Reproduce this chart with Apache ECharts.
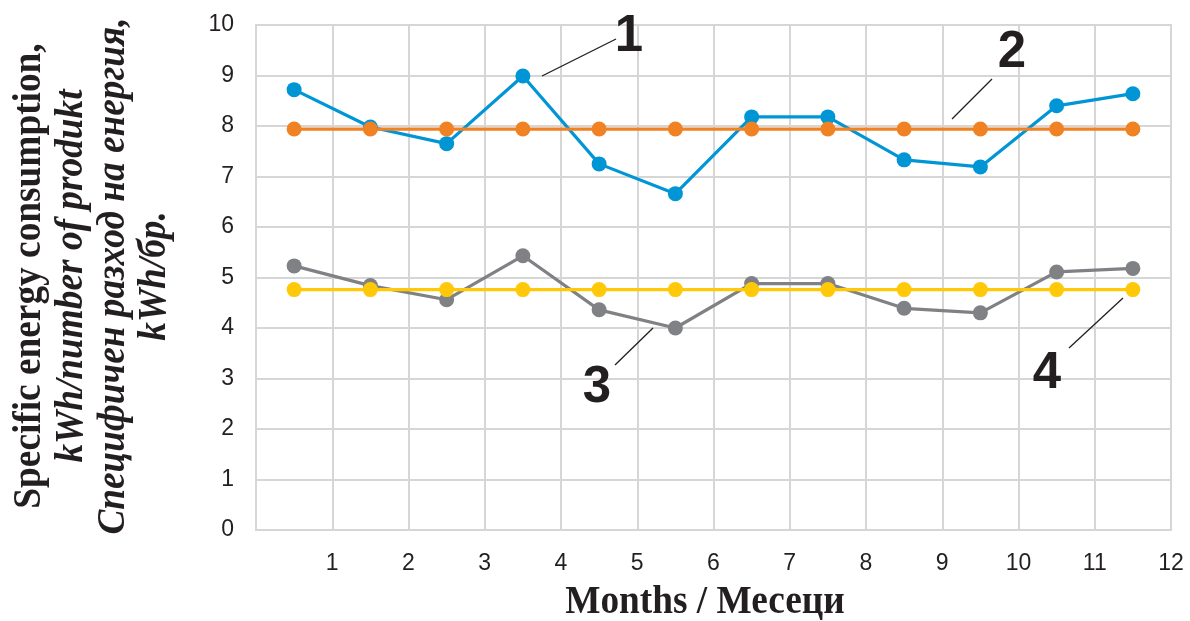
<!DOCTYPE html>
<html>
<head>
<meta charset="utf-8">
<script src="https://cdn.jsdelivr.net/npm/echarts@6/dist/echarts.min.js"></script>
<style>
html,body{margin:0;padding:0;background:#fff;}
#chart{width:1190px;height:621px;}
</style>
</head>
<body>
<div id="chart"></div>
<script>
// ---- data ----
var monthPositions = [0.5, 1.5, 2.5, 3.5, 4.5, 5.5, 6.5, 7.5, 8.5, 9.5, 10.5, 11.5];
var series1 = [8.72, 7.98, 7.65, 8.99, 7.25, 6.66, 8.18, 8.18, 7.33, 7.19, 8.40, 8.64];
var series2 = [7.94, 7.94, 7.94, 7.94, 7.94, 7.94, 7.94, 7.94, 7.94, 7.94, 7.94, 7.94];
var series3 = [5.23, 4.84, 4.56, 5.43, 4.36, 4.00, 4.88, 4.88, 4.39, 4.30, 5.11, 5.18];
var series4 = [4.76, 4.76, 4.76, 4.76, 4.76, 4.76, 4.76, 4.76, 4.76, 4.76, 4.76, 4.76];
var seriesLabels = ['1', '2', '3', '4'];
var yTitleLines = [
  {text: 'Specific energy consumption,', italic: false},
  {text: 'kWh/number of produkt', italic: true},
  {text: 'Специфичен разход на енергия,', italic: true},
  {text: 'kWh/бр.', italic: true}
];
var xTitle = 'Months / Месеци';

function pairs(vals) {
  return vals.map(function (v, i) { return [monthPositions[i], v]; });
}

var colors = ['#0096d6', '#f08224', '#808184', '#ffc90a'];
var gridColor = '#d6d6d6';
var textColor = '#231f20';

var chart = echarts.init(document.getElementById('chart'), null, {renderer: 'canvas'});

function lineSeries(name, vals, color) {
  return {
    name: name, type: 'line', data: pairs(vals),
    symbol: 'circle', symbolSize: 15,
    lineStyle: {color: color, width: 3.2},
    itemStyle: {color: color},
    animation: false
  };
}

var graphics = [];
var yLineX = [29, 71, 113, 154];
yTitleLines.forEach(function (ln, i) {
  graphics.push({
    type: 'text', x: yLineX[i], y: 276, rotation: Math.PI / 2, scaleX: 0.91,
    style: {
      text: ln.text, fill: textColor,
      fontFamily: '"Liberation Serif", "Times New Roman", serif',
      fontWeight: 'bold', fontStyle: ln.italic ? 'italic' : 'normal',
      fontSize: 41, align: 'center', verticalAlign: 'middle'
    }
  });
});
graphics.push({
  type: 'text', x: 705, y: 602, scaleX: 0.91,
  style: {
    text: xTitle, fill: textColor,
    fontFamily: '"Liberation Serif", "Times New Roman", serif',
    fontWeight: 'bold', fontSize: 41, align: 'center', verticalAlign: 'middle'
  }
});
// annotation labels and leader lines
var annot = [
  {label: seriesLabels[0], tx: 629, ty: 37, x1: 542, y1: 76, x2: 616, y2: 39},
  {label: seriesLabels[1], tx: 1012, ty: 53, x1: 952, y1: 119, x2: 992, y2: 79},
  {label: seriesLabels[2], tx: 597, ty: 388, x1: 615, y1: 365, x2: 653, y2: 328},
  {label: seriesLabels[3], tx: 1047, ty: 374, x1: 1069, y1: 348, x2: 1123, y2: 298}
];
annot.forEach(function (a) {
  graphics.push({
    type: 'line', shape: {x1: a.x1, y1: a.y1, x2: a.x2, y2: a.y2},
    style: {stroke: textColor, lineWidth: 1.3}, z: 10
  });
  graphics.push({
    type: 'text', x: a.tx, y: a.ty, z: 10,
    style: {
      text: a.label, fill: textColor,
      fontFamily: '"Liberation Sans", Arial, sans-serif', fontWeight: 'bold',
      fontSize: 51, align: 'center', verticalAlign: 'middle'
    }
  });
});

var option = {
  backgroundColor: '#ffffff',
  animation: false,
  grid: {left: 256, top: 25, right: 19, bottom: 91, show: true, borderColor: gridColor, borderWidth: 2},
  xAxis: {
    type: 'value', min: 0, max: 12, interval: 1,
    axisLine: {show: true, lineStyle: {color: gridColor, width: 2}},
    axisTick: {show: false},
    splitLine: {show: true, lineStyle: {color: gridColor, width: 2}},
    axisLabel: {
      show: true, margin: 22, color: textColor, fontSize: 23,
      fontFamily: '"Liberation Sans", Arial, sans-serif',
      showMinLabel: false,
      formatter: function (v) { return v === 0 ? '' : String(v); }
    }
  },
  yAxis: {
    type: 'value', min: 0, max: 10, interval: 1,
    axisLine: {show: true, lineStyle: {color: gridColor, width: 2}},
    axisTick: {show: false},
    splitLine: {show: true, lineStyle: {color: gridColor, width: 2}},
    axisLabel: {
      margin: 22, color: textColor, fontSize: 23,
      fontFamily: '"Liberation Sans", Arial, sans-serif'
    }
  },
  series: [
    lineSeries('1', series1, colors[0]),
    lineSeries('2', series2, colors[1]),
    lineSeries('3', series3, colors[2]),
    lineSeries('4', series4, colors[3])
  ],
  graphic: graphics
};
chart.setOption(option);
</script>
</body>
</html>
